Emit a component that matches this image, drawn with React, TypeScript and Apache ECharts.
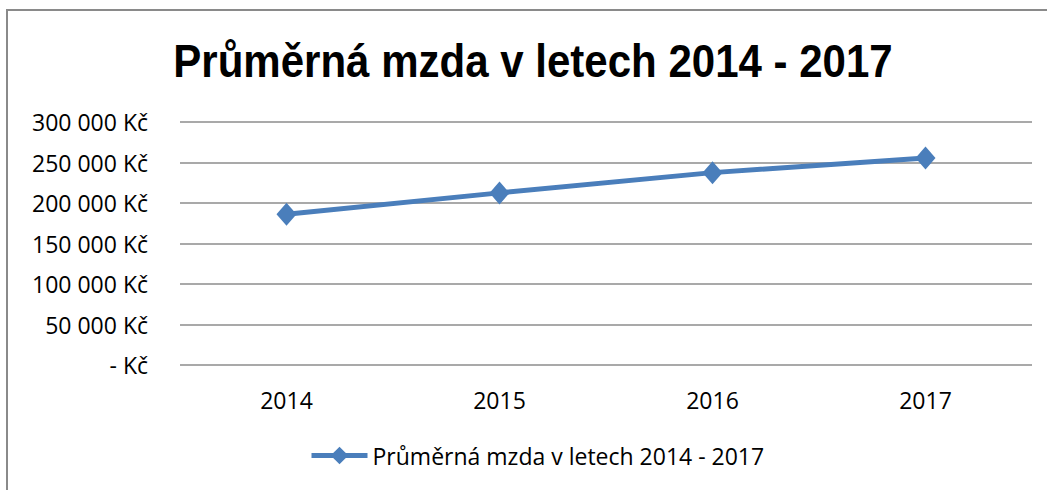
import React, { useEffect, useRef } from "react";
import * as echarts from "echarts";

const TITLE = "Průměrná mzda v letech 2014 - 2017";
const SERIES_NAME = "Průměrná mzda v letech 2014 - 2017";
const YEARS = ["2014", "2015", "2016", "2017"];
const WAGES = [186000, 212500, 237500, 255500];
const Y_MIN = 0;
const Y_MAX = 300000;
const Y_STEP = 50000;

const LABEL_FONT = "'Open Sans', 'Noto Sans', sans-serif";
const TITLE_FONT = "'Liberation Sans', Arial, sans-serif";

function formatKc(v: number): string {
  if (v === 0) return "- Kč";
  const s = String(Math.round(v)).replace(/\B(?=(\d{3})+(?!\d))/g, " ");
  return s + " Kč";
}

export default function App() {
  const ref = useRef<HTMLDivElement>(null);
  useEffect(() => {
    if (!ref.current) return;
    const chart = echarts.init(ref.current, undefined, { renderer: "svg" });
    chart.setOption({
      animation: false,
      backgroundColor: "#ffffff",
      graphic: [
        {
          type: "rect",
          shape: { x: 7, y: 10, width: 1200, height: 700 },
          style: { fill: "none", stroke: "#8a8a8a", lineWidth: 2 },
          silent: true,
          z: 100,
        },
        {
          type: "text",
          x: 533,
          y: 61,
          scaleX: 0.914,
          silent: true,
          style: {
            text: TITLE,
            fontFamily: TITLE_FONT,
            fontWeight: "bold",
            fontSize: 46,
            fill: "#000000",
            textAlign: "center",
            textVerticalAlign: "middle",
          },
        },
      ],
      legend: {
        left: 309,
        top: 444,
        padding: 0,
        itemWidth: 56,
        itemHeight: 22,
        lineStyle: { width: 5, color: "#4a7ebb" },
        textStyle: { fontFamily: LABEL_FONT, fontSize: 23, color: "#000000" },
        data: [SERIES_NAME],
      },
      grid: { left: 180, right: 15, top: 122, bottom: 125, containLabel: false },
      xAxis: {
        type: "category",
        data: YEARS,
        boundaryGap: true,
        axisLine: { show: false },
        axisTick: { show: false },
        axisLabel: {
          margin: 23,
          fontFamily: LABEL_FONT,
          fontSize: 23,
          color: "#000000",
        },
      },
      yAxis: {
        type: "value",
        min: Y_MIN,
        max: Y_MAX,
        interval: Y_STEP,
        axisLine: { show: false },
        axisTick: { show: false },
        splitLine: { lineStyle: { color: "#8c8c8c", width: 1.5 } },
        axisLabel: {
          margin: 32,
          fontFamily: LABEL_FONT,
          fontSize: 23,
          color: "#000000",
          formatter: (v: number) => formatKc(v),
        },
      },
      series: [
        {
          name: SERIES_NAME,
          type: "line",
          data: WAGES,
          symbol: "diamond",
          symbolSize: [20, 23],
          lineStyle: { color: "#4a7ebb", width: 5 },
          itemStyle: { color: "#4a7ebb" },
        },
      ],
    });
    return () => chart.dispose();
  }, []);
  return (
    <div
      ref={ref}
      style={{ position: "fixed", left: 0, top: 0, width: 1047, height: 490, background: "#fff" }}
    />
  );
}
